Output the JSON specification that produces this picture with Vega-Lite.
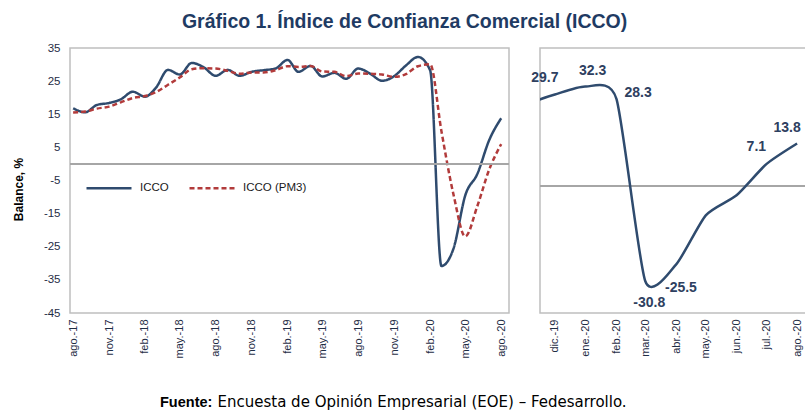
{
  "$schema": "https://vega.github.io/schema/vega-lite/v6.json",
  "background": "white",
  "padding": {"left": 11, "top": 11, "right": 0, "bottom": 0},
  "title": {"text": "Gráfico 1. Índice de Confianza Comercial (ICCO)", "font": "Liberation Sans", "fontSize": 19.5, "fontWeight": "bold", "color": "#1F3B63", "anchor": "middle", "offset": 9, "dx": -8},
  "spacing": 31,
  "bounds": "flush",
  "datasets": {
    "icco": [
      {"fecha": "2017-08-01", "serie": "ICCO", "valor": 16.8},
      {"fecha": "2017-09-01", "serie": "ICCO", "valor": 15.6},
      {"fecha": "2017-10-01", "serie": "ICCO", "valor": 17.8},
      {"fecha": "2017-11-01", "serie": "ICCO", "valor": 18.4},
      {"fecha": "2017-12-01", "serie": "ICCO", "valor": 19.5},
      {"fecha": "2018-01-01", "serie": "ICCO", "valor": 21.8},
      {"fecha": "2018-02-01", "serie": "ICCO", "valor": 20.3},
      {"fecha": "2018-03-01", "serie": "ICCO", "valor": 23.0},
      {"fecha": "2018-04-01", "serie": "ICCO", "valor": 28.4},
      {"fecha": "2018-05-01", "serie": "ICCO", "valor": 27.0},
      {"fecha": "2018-06-01", "serie": "ICCO", "valor": 30.5},
      {"fecha": "2018-07-01", "serie": "ICCO", "valor": 29.2},
      {"fecha": "2018-08-01", "serie": "ICCO", "valor": 26.6},
      {"fecha": "2018-09-01", "serie": "ICCO", "valor": 28.4},
      {"fecha": "2018-10-01", "serie": "ICCO", "valor": 26.6},
      {"fecha": "2018-11-01", "serie": "ICCO", "valor": 27.8},
      {"fecha": "2018-12-01", "serie": "ICCO", "valor": 28.3},
      {"fecha": "2019-01-01", "serie": "ICCO", "valor": 28.8},
      {"fecha": "2019-02-01", "serie": "ICCO", "valor": 31.4},
      {"fecha": "2019-03-01", "serie": "ICCO", "valor": 27.8},
      {"fecha": "2019-04-01", "serie": "ICCO", "valor": 29.6},
      {"fecha": "2019-05-01", "serie": "ICCO", "valor": 26.4},
      {"fecha": "2019-06-01", "serie": "ICCO", "valor": 27.5},
      {"fecha": "2019-07-01", "serie": "ICCO", "valor": 25.7},
      {"fecha": "2019-08-01", "serie": "ICCO", "valor": 28.8},
      {"fecha": "2019-09-01", "serie": "ICCO", "valor": 27.2},
      {"fecha": "2019-10-01", "serie": "ICCO", "valor": 25.1},
      {"fecha": "2019-11-01", "serie": "ICCO", "valor": 26.5},
      {"fecha": "2019-12-01", "serie": "ICCO", "valor": 29.7},
      {"fecha": "2020-01-01", "serie": "ICCO", "valor": 32.3},
      {"fecha": "2020-02-01", "serie": "ICCO", "valor": 28.3},
      {"fecha": "2020-03-01", "serie": "ICCO", "valor": -30.8},
      {"fecha": "2020-04-01", "serie": "ICCO", "valor": -25.5},
      {"fecha": "2020-05-01", "serie": "ICCO", "valor": -9.5},
      {"fecha": "2020-06-01", "serie": "ICCO", "valor": -3.0},
      {"fecha": "2020-07-01", "serie": "ICCO", "valor": 7.1},
      {"fecha": "2020-08-01", "serie": "ICCO", "valor": 13.8},
      {"fecha": "2017-08-01", "serie": "ICCO (PM3)", "valor": 15.5},
      {"fecha": "2017-09-01", "serie": "ICCO (PM3)", "valor": 15.8},
      {"fecha": "2017-10-01", "serie": "ICCO (PM3)", "valor": 16.7},
      {"fecha": "2017-11-01", "serie": "ICCO (PM3)", "valor": 17.3},
      {"fecha": "2017-12-01", "serie": "ICCO (PM3)", "valor": 18.6},
      {"fecha": "2018-01-01", "serie": "ICCO (PM3)", "valor": 19.9},
      {"fecha": "2018-02-01", "serie": "ICCO (PM3)", "valor": 20.5},
      {"fecha": "2018-03-01", "serie": "ICCO (PM3)", "valor": 21.7},
      {"fecha": "2018-04-01", "serie": "ICCO (PM3)", "valor": 23.9},
      {"fecha": "2018-05-01", "serie": "ICCO (PM3)", "valor": 26.1},
      {"fecha": "2018-06-01", "serie": "ICCO (PM3)", "valor": 28.6},
      {"fecha": "2018-07-01", "serie": "ICCO (PM3)", "valor": 28.9},
      {"fecha": "2018-08-01", "serie": "ICCO (PM3)", "valor": 28.8},
      {"fecha": "2018-09-01", "serie": "ICCO (PM3)", "valor": 28.1},
      {"fecha": "2018-10-01", "serie": "ICCO (PM3)", "valor": 27.2},
      {"fecha": "2018-11-01", "serie": "ICCO (PM3)", "valor": 27.6},
      {"fecha": "2018-12-01", "serie": "ICCO (PM3)", "valor": 27.6},
      {"fecha": "2019-01-01", "serie": "ICCO (PM3)", "valor": 28.3},
      {"fecha": "2019-02-01", "serie": "ICCO (PM3)", "valor": 29.5},
      {"fecha": "2019-03-01", "serie": "ICCO (PM3)", "valor": 29.3},
      {"fecha": "2019-04-01", "serie": "ICCO (PM3)", "valor": 29.6},
      {"fecha": "2019-05-01", "serie": "ICCO (PM3)", "valor": 27.9},
      {"fecha": "2019-06-01", "serie": "ICCO (PM3)", "valor": 27.8},
      {"fecha": "2019-07-01", "serie": "ICCO (PM3)", "valor": 26.5},
      {"fecha": "2019-08-01", "serie": "ICCO (PM3)", "valor": 27.3},
      {"fecha": "2019-09-01", "serie": "ICCO (PM3)", "valor": 27.2},
      {"fecha": "2019-10-01", "serie": "ICCO (PM3)", "valor": 27.0},
      {"fecha": "2019-11-01", "serie": "ICCO (PM3)", "valor": 26.3},
      {"fecha": "2019-12-01", "serie": "ICCO (PM3)", "valor": 27.1},
      {"fecha": "2020-01-01", "serie": "ICCO (PM3)", "valor": 29.5},
      {"fecha": "2020-02-01", "serie": "ICCO (PM3)", "valor": 30.1},
      {"fecha": "2020-03-01", "serie": "ICCO (PM3)", "valor": 9.9},
      {"fecha": "2020-04-01", "serie": "ICCO (PM3)", "valor": -9.3},
      {"fecha": "2020-05-01", "serie": "ICCO (PM3)", "valor": -21.9},
      {"fecha": "2020-06-01", "serie": "ICCO (PM3)", "valor": -12.7},
      {"fecha": "2020-07-01", "serie": "ICCO (PM3)", "valor": -1.8},
      {"fecha": "2020-08-01", "serie": "ICCO (PM3)", "valor": 6.0}
    ]
  },
  "hconcat": [
    {
      "width": 439,
      "height": 265,
      "data": {"name": "icco"},
      "title": {"text": "Fuente:", "orient": "bottom", "anchor": "start", "frame": "group", "font": "Liberation Sans", "fontSize": 14.5, "fontWeight": "bold", "color": "#000000", "dx": 90, "dy": -13, "offset": 0},
      "encoding": {
        "y": {
          "field": "valor", "type": "quantitative",
          "scale": {"domain": [-45, 35], "nice": false, "zero": false},
          "axis": {"values": [-45, -35, -25, -15, -5, 5, 15, 25, 35], "labelOverlap": false, "labelExpr": "toString(datum.value)", "title": "Balance, %", "titleFontWeight": "bold", "titleFontSize": 12, "titleColor": "#000000", "labelPadding": 10, "titlePadding": 18, "titleY": 141}
        }
      },
      "layer": [
        {
          "mark": {"type": "line", "interpolate": "monotone", "strokeWidth": 2.5},
          "encoding": {
            "x": {
              "field": "fecha", "type": "temporal",
              "scale": {"type": "utc", "domain": [{"year": 2017, "month": 7, "date": 24, "utc": true}, {"year": 2020, "month": 8, "date": 21, "utc": true}]},
              "axis": {
                "values": [
                  {"year": 2017, "month": 8, "date": 1, "utc": true},
                  {"year": 2017, "month": 11, "date": 1, "utc": true},
                  {"year": 2018, "month": 2, "date": 1, "utc": true},
                  {"year": 2018, "month": 5, "date": 1, "utc": true},
                  {"year": 2018, "month": 8, "date": 1, "utc": true},
                  {"year": 2018, "month": 11, "date": 1, "utc": true},
                  {"year": 2019, "month": 2, "date": 1, "utc": true},
                  {"year": 2019, "month": 5, "date": 1, "utc": true},
                  {"year": 2019, "month": 8, "date": 1, "utc": true},
                  {"year": 2019, "month": 11, "date": 1, "utc": true},
                  {"year": 2020, "month": 2, "date": 1, "utc": true},
                  {"year": 2020, "month": 5, "date": 1, "utc": true},
                  {"year": 2020, "month": 8, "date": 1, "utc": true}
                ],
                "labelExpr": "['ene.','feb.','mar.','abr.','may.','jun.','jul.','ago.','sep.','oct.','nov.','dic.'][utcmonth(datum.value)] + '-' + utcFormat(datum.value, '%y')",
                "labelAngle": 270, "labelAlign": "right", "labelBaseline": "middle", "labelPadding": 6, "labelOverlap": false,
                "title": "Encuesta de Opinión Empresarial (EOE) – Fedesarrollo.",
                "titleFont": "DejaVu Sans", "titleFontWeight": "normal", "titleFontSize": 15, "titleColor": "#000000",
                "titleAlign": "left", "titleAnchor": "start", "titleBaseline": "alphabetic",
                "titleX": 147, "titleY": 93
              }
            },
            "color": {
              "field": "serie", "type": "nominal",
              "scale": {"domain": ["ICCO", "ICCO (PM3)"], "range": ["#2F4B6E", "#B23B3B"]},
              "legend": {
                "orient": "none", "legendX": 15, "legendY": 116, "direction": "horizontal", "title": null,
                "symbolType": "stroke", "symbolSize": 2025, "symbolStrokeWidth": 2.5,
                "labelFontSize": 11.5, "labelFont": "Liberation Sans", "labelColor": "#1A1A1A", "labelOffset": 7, "columnPadding": 15
              }
            },
            "strokeDash": {
              "field": "serie", "type": "nominal",
              "scale": {"domain": ["ICCO", "ICCO (PM3)"], "range": [[1, 0], [5, 3]]},
              "legend": null
            }
          }
        },
        {
          "mark": {"type": "rule", "color": "#A6A6A6", "strokeWidth": 1.5},
          "encoding": {"y": {"datum": 0, "type": "quantitative"}}
        }
      ]
    },
    {
      "width": 272,
      "height": 265,
      "data": {"name": "icco"},
      "transform": [{"filter": "datum.serie === 'ICCO' && time(datum.fecha) >= utc(2019, 10, 1)"}],
      "encoding": {
        "x": {
          "field": "fecha", "type": "temporal",
          "scale": {"type": "utc", "domain": [{"year": 2019, "month": 11, "date": 16, "utc": true}, {"year": 2020, "month": 8, "date": 16, "utc": true}]},
          "axis": {
            "values": [
              {"year": 2019, "month": 12, "date": 1, "utc": true},
              {"year": 2020, "month": 1, "date": 1, "utc": true},
              {"year": 2020, "month": 2, "date": 1, "utc": true},
              {"year": 2020, "month": 3, "date": 1, "utc": true},
              {"year": 2020, "month": 4, "date": 1, "utc": true},
              {"year": 2020, "month": 5, "date": 1, "utc": true},
              {"year": 2020, "month": 6, "date": 1, "utc": true},
              {"year": 2020, "month": 7, "date": 1, "utc": true},
              {"year": 2020, "month": 8, "date": 1, "utc": true}
            ],
            "labelExpr": "['ene.','feb.','mar.','abr.','may.','jun.','jul.','ago.','sep.','oct.','nov.','dic.'][utcmonth(datum.value)] + '-' + utcFormat(datum.value, '%y')",
            "labelAngle": 270, "labelAlign": "right", "labelBaseline": "middle", "labelPadding": 6, "labelOverlap": false,
            "title": null
          }
        },
        "y": {
          "field": "valor", "type": "quantitative",
          "scale": {"domain": [-41.2, 44.8], "nice": false, "zero": false},
          "axis": null
        }
      },
      "layer": [
        {
          "mark": {"type": "rule", "color": "#A6A6A6", "strokeWidth": 1.5},
          "encoding": {"x": null, "y": {"datum": 0, "type": "quantitative"}}
        },
        {
          "mark": {"type": "line", "interpolate": "cardinal", "tension": 0.35, "strokeWidth": 2.5, "color": "#2F4B6E", "clip": true}
        },
        {
          "transform": [{"filter": "utcmonth(datum.fecha) === 11 || utcmonth(datum.fecha) === 6"}],
          "mark": {"type": "text", "font": "Liberation Sans", "fontSize": 14, "fontWeight": "bold", "color": "#2E4060", "dx": -10, "dy": -17},
          "encoding": {"text": {"field": "valor", "type": "nominal"}}
        },
        {
          "transform": [{"filter": "utcmonth(datum.fecha) === 0"}],
          "mark": {"type": "text", "font": "Liberation Sans", "fontSize": 14, "fontWeight": "bold", "color": "#2E4060", "dx": 7, "dy": -16},
          "encoding": {"text": {"field": "valor", "type": "nominal"}}
        },
        {
          "transform": [{"filter": "utcmonth(datum.fecha) === 7"}],
          "mark": {"type": "text", "font": "Liberation Sans", "fontSize": 14, "fontWeight": "bold", "color": "#2E4060", "dx": -10, "dy": -16},
          "encoding": {"text": {"field": "valor", "type": "nominal"}}
        },
        {
          "transform": [{"filter": "utcmonth(datum.fecha) === 1"}],
          "mark": {"type": "text", "font": "Liberation Sans", "fontSize": 14, "fontWeight": "bold", "color": "#2E4060", "align": "left", "dx": 8, "dy": -6},
          "encoding": {"text": {"field": "valor", "type": "nominal"}}
        },
        {
          "transform": [{"filter": "utcmonth(datum.fecha) === 3"}],
          "mark": {"type": "text", "font": "Liberation Sans", "fontSize": 14, "fontWeight": "bold", "color": "#2E4060", "align": "left", "dx": -11, "dy": 23},
          "encoding": {"text": {"field": "valor", "type": "nominal"}}
        },
        {
          "transform": [{"filter": "utcmonth(datum.fecha) === 2"}],
          "mark": {"type": "text", "font": "Liberation Sans", "fontSize": 14, "fontWeight": "bold", "color": "#2E4060", "dx": 4, "dy": 22},
          "encoding": {"text": {"field": "valor", "type": "nominal"}}
        }
      ]
    }
  ],
  "config": {
    "font": "Liberation Sans",
    "view": {"stroke": "#BFBFBF", "strokeWidth": 1.5},
    "axis": {
      "labelFont": "Liberation Sans", "titleFont": "Liberation Sans",
      "labelFontSize": 11, "labelColor": "#1F2D45",
      "ticks": false, "domain": false, "grid": false
    },
    "axisY": {"labelFontSize": 11.5, "labelOverlap": false}
  }
}
